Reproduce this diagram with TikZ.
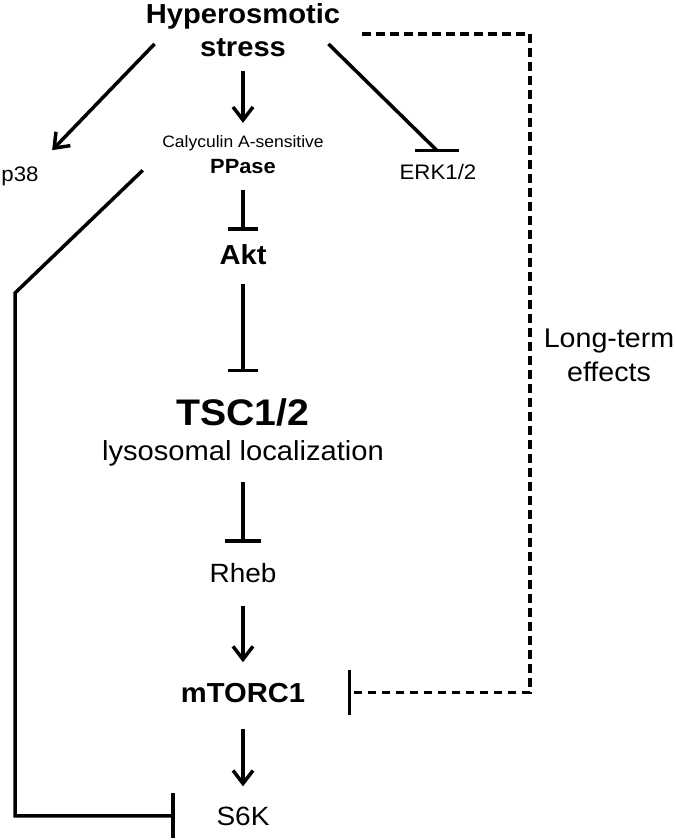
\documentclass[tikz,border=0pt]{standalone}
\usepackage{fontspec}
\setmainfont[FakeStretch=1.06]{Liberation Sans}
\usetikzlibrary{positioning, arrows.meta}

\tikzset{
  lbl/.style={inner sep=0pt, anchor=base},
  act/.style={line width=3.5pt, -{Straight Barb[length=13pt,width=20pt]}},
  inh/.style={line width=3.5pt, -{Bar[width=30pt]}},
  longterm/.style={line width=3.5pt, dash pattern=on 8.5pt off 5.5pt, -{Bar[width=45pt]}},
}
\newcommand{\fs}[2]{\fontsize{#1}{#2}\selectfont}

\begin{document}
\begin{tikzpicture}[x=1pt, y=-1pt]
    \useasboundingbox (0,0) rectangle (675,840);

    \node[inner sep=0pt, anchor=north, align=center, font=\fs{27.5}{33}\bfseries] (stress) at (243,3.3) {Hyperosmotic\\stress};
    \node[lbl, font=\fs{21}{24}] (p38) at (20,181) {p38};
    \node[lbl, font=\fs{21}{24}] (erk) at (438,179) {ERK1/2};
    \node[lbl, font=\fs{16.5}{19}] (calyc) at (243,147) {Calyculin A-sensitive};
    \node[lbl, font=\fs{20.6}{23}\bfseries] (ppase) at (243,173) {PPase};
    \node[lbl, font=\fs{27.5}{30}\bfseries] (akt) at (243,264) {Akt};
    \node[lbl, font=\fs{37}{42}\bfseries] (tsc) at (243,425) {TSC1/2};
    \node[lbl, font=\fs{27.5}{30}] (lyso) at (243,460) {lysosomal localization};
    \node[lbl, font=\fs{26.4}{30}] (rheb) at (243,582) {Rheb};
    \node[lbl, font=\fs{27.5}{30}\bfseries] (mtorc) at (243,702) {mTORC1};
    \node[lbl, font=\fs{26.4}{30}] (s6k) at (243,825) {S6K};
    \node[inner sep=0pt, anchor=north, align=center, font=\fs{27}{34}] (ltlabel) at (609,328.7) {Long-term\\effects};

    % main chain
    \draw[act, shorten <=14pt, shorten >=12pt] (stress.south) -- (calyc.north);
    \draw[inh, shorten <=17pt, shorten >=13pt] (ppase.south) -- (akt.north);
    \draw[inh, shorten <=20pt, shorten >=25.6pt] (akt.south) -- (tsc.north);
    \draw[inh, -{Bar[width=36pt]}, shorten <=16.2pt, shorten >=20pt] (lyso.south) -- (rheb.north);
    \draw[act, shorten <=24pt, shorten >=20.4pt] (rheb.south) -- (mtorc.north);
    \draw[act, shorten <=27pt, shorten >=20pt] (mtorc.south) -- (s6k.north);

    % side branches
    \draw[act] ([xshift=9pt,yshift=13pt]stress.south west) -- ([xshift=13.4pt,yshift=16pt]p38.north east);
    \coordinate (erkbar) at ([xshift=-1pt,yshift=13pt]erk.north);
    \draw[line width=3.5pt] ([xshift=-12pt,yshift=13pt]stress.south east) -- (erkbar);
    \draw[line width=3.5pt] ([xshift=-22pt]erkbar) -- ([xshift=22pt]erkbar);

    % long-term effects
    \coordinate (ltcorner) at (530,692);
    \draw[longterm, shorten >=42.7pt] ([xshift=22pt,yshift=-4pt]stress.east) -| (ltcorner) |- (mtorc.east);

    % PPase to S6K
    \coordinate (bend) at (15,293);
    \draw[inh, -{Bar[width=45pt]}, shorten >=41.5pt] ([xshift=-19.4pt,yshift=-19.7pt]calyc.south west) -- (bend) |- (s6k.west);
\end{tikzpicture}
\end{document}
